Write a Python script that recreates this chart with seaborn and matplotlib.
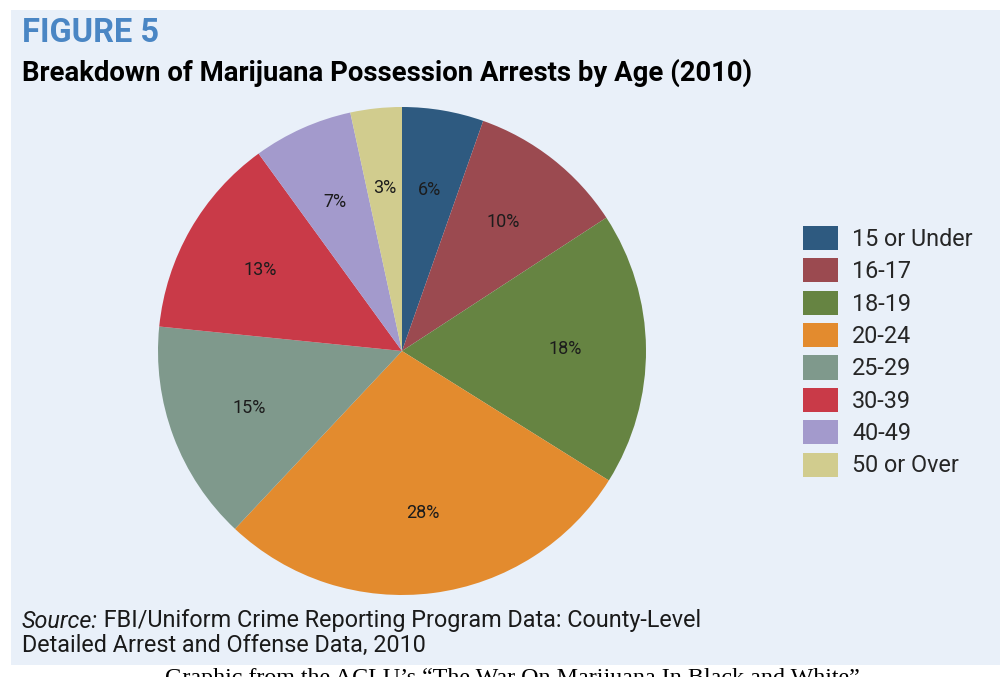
import matplotlib
matplotlib.use("Agg")
import matplotlib.pyplot as plt
from matplotlib.patches import Rectangle, Patch
import numpy as np
import seaborn as sns

# ---- data ----
age_groups = ["15 or Under", "16-17", "18-19", "20-24", "25-29", "30-39", "40-49", "50 or Over"]
shares = [5.4, 10.4, 18.1, 28.1, 14.6, 13.4, 6.6, 3.4]
pct_labels = ["6%", "10%", "18%", "28%", "15%", "13%", "7%", "3%"]
colors = ["#2e5a80", "#9b4a50", "#668442", "#e38b2e", "#7f998c", "#c93a48", "#a39acc", "#d1cc8e"]

title_text = "FIGURE 5"
subtitle_text = "Breakdown of Marijuana Possession Arrests by Age (2010)"
source_label = "Source:"
source_rest = " FBI/Uniform Crime Reporting Program Data: County-Level"
source_line2 = "Detailed Arrest and Offense Data, 2010"
caption_text = "Graphic from the ACLU\u2019s \u201cThe War On Marijuana In Black and White\u201d"

sns.set_theme(style="white")
plt.rcParams["font.family"] = ["Roboto", "DejaVu Sans"]

W, H = 1002, 677
fig = plt.figure(figsize=(W / 100, H / 100), dpi=100)
fig.patch.set_facecolor("white")

def fx(px):
    return px / W

def fy(py):
    return 1 - py / H

# light blue panel
fig.patches.append(Rectangle((fx(11), fy(665)), fx(1000) - fx(11), fy(10) - fy(665),
                             transform=fig.transFigure, facecolor="#e9f0f9",
                             edgecolor="none", zorder=-5))

# pie axes
cx, cy, r = 402, 351, 244
ax = fig.add_axes([fx(cx - r), fy(cy + r), 2 * r / W, 2 * r / H], zorder=2)
ax.set_facecolor("none")
wedges, texts = ax.pie(shares, colors=colors, startangle=90, counterclock=False,
                       wedgeprops=dict(linewidth=0))
for w, lab in zip(wedges, pct_labels):
    ang = np.deg2rad((w.theta1 + w.theta2) / 2)
    ax.text(0.67 * np.cos(ang), 0.67 * np.sin(ang), lab, ha="center", va="center",
            fontsize=13, color="#1c1c1c")
ax.set_xlim(-1, 1)
ax.set_ylim(-1, 1)
ax.set_aspect("auto")
ax.axis("off")

# titles
fig.text(fx(22), fy(33), title_text, color="#4a86c4", fontsize=23.5, fontweight="bold",
         va="center", ha="left")
fig.text(fx(22), fy(73), subtitle_text, color="black", fontsize=19.8, fontweight="bold",
         va="center", ha="left")

# legend
handles = [Patch(facecolor=c, edgecolor="none") for c in colors]
fs = 16.8
fig.legend(handles, age_groups, loc="upper left",
           bbox_to_anchor=(fx(803), fy(226)), frameon=False, fontsize=fs,
           handlelength=1.5, handleheight=1.21, labelspacing=0.32,
           handletextpad=0.6, borderaxespad=0, borderpad=0)

# source
t1 = fig.text(fx(22), fy(621), source_label, fontsize=16.8, style="italic", va="center",
              ha="left", color="#1a1a1a")
fig.canvas.draw()
bb = t1.get_window_extent()
fig.text(bb.x1 / W, fy(621), source_rest, fontsize=16.8, va="center", ha="left",
         color="#1a1a1a")
fig.text(fx(22), fy(645), source_line2, fontsize=16.8, va="center", ha="left",
         color="#1a1a1a")

# cut-off caption below panel
fig.text(fx(512), fy(668), caption_text, fontsize=17.3, family="Liberation Serif",
         va="top", ha="center", color="black")

fig.savefig("out.png", dpi=100, facecolor="white")
